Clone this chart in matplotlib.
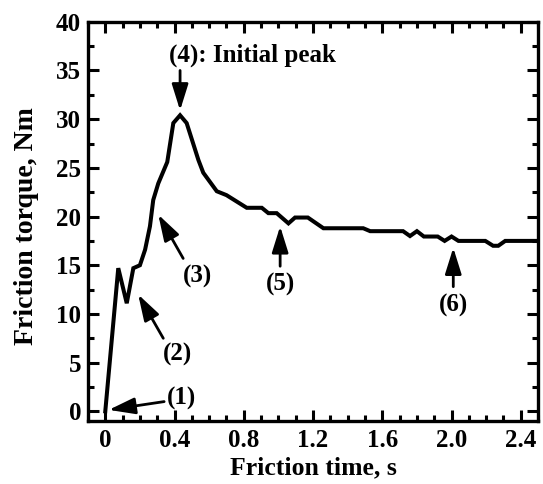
import matplotlib
matplotlib.use("Agg")
import matplotlib.pyplot as plt
from matplotlib.ticker import MultipleLocator

# Data
time_s = [0.0, 0.075, 0.124, 0.162, 0.20, 0.23, 0.258, 0.277, 0.306, 0.358, 0.393,
          0.432, 0.47, 0.538, 0.566, 0.644, 0.70, 0.817, 0.904, 0.942, 0.99, 1.058,
          1.096, 1.17, 1.26, 1.49, 1.53, 1.72, 1.76, 1.80, 1.84, 1.92, 1.96, 2.00,
          2.04, 2.195, 2.24, 2.27, 2.31, 2.5]
torque_nm = [0.0, 14.7, 11.1, 14.7, 15.0, 16.6, 19.0, 21.7, 23.4, 25.6, 29.6,
             30.4, 29.6, 25.8, 24.5, 22.6, 22.2, 20.9, 20.9, 20.35, 20.35, 19.3,
             19.9, 19.9, 18.8, 18.8, 18.5, 18.5, 18.0, 18.5, 17.95, 17.95, 17.5, 17.95,
             17.5, 17.5, 17.0, 17.0, 17.5, 17.5]

x_ticks = [0, 0.4, 0.8, 1.2, 1.6, 2.0, 2.4]
x_tick_labels = ["0", "0.4", "0.8", "1.2", "1.6", "2.0", "2.4"]
y_ticks = [0, 5, 10, 15, 20, 25, 30, 35, 40]

# annotations: label, label position, arrow tail, arrow tip
ann_labels = ["(1)", "(2)", "(3)", "(4): Initial peak", "(5)", "(6)"]
ann_text_xy = [(0.44, 1.3), (0.42, 5.8), (0.53, 13.9), (0.85, 36.6), (1.01, 13.0), (2.01, 10.9)]
ann_tail_xy = [(0.34, 1.0), (0.335, 7.5), (0.45, 15.7), (0.432, 35.0), (1.01, 14.9), (2.01, 12.8)]
ann_tip_xy = [(0.02, 0.15), (0.19, 12.0), (0.306, 20.2), (0.432, 30.9), (1.01, 19.0), (2.01, 16.8)]

plt.rcParams['font.family'] = ['Liberation Serif', 'DejaVu Serif']
plt.rcParams['font.weight'] = 'bold'

fig = plt.figure(figsize=(5.43, 4.84), dpi=100)
ax = fig.add_axes([0.162, 0.130, 0.829, 0.825])

ax.plot(time_s, torque_nm, color='black', lw=2.9, solid_joinstyle='miter')

ax.set_xlim(-0.1, 2.5)
ax.set_ylim(-1, 40)
ax.set_xticks(x_ticks)
ax.set_xticklabels(x_tick_labels)
ax.set_yticks(y_ticks)
ax.xaxis.set_minor_locator(MultipleLocator(0.1))
ax.yaxis.set_minor_locator(MultipleLocator(2.5))
ax.tick_params(which='both', direction='in', top=True, right=True, width=2.2,
               labelsize=18)
ax.tick_params(axis='x', pad=6)
ax.tick_params(axis='y', pad=5)
ax.tick_params(which='major', length=8)
ax.tick_params(which='minor', length=4)
for sp in ax.spines.values():
    sp.set_linewidth(2.4)
for lab in ax.get_xticklabels() + ax.get_yticklabels():
    lab.set_fontweight('bold')

ax.set_xlabel("Friction time, s", fontsize=18.5, fontweight='bold')
ax.set_ylabel("Friction torque, Nm", fontsize=20, fontweight='bold')
ax.xaxis.set_label_coords(0.5, -0.087)
ax.yaxis.set_label_coords(-0.108, 0.488)

for lab, txy, tail, tip in zip(ann_labels, ann_text_xy, ann_tail_xy, ann_tip_xy):
    ax.text(txy[0], txy[1], lab, fontsize=18, fontweight='bold', ha='center', va='center')
    ax.annotate('', xy=tip, xytext=tail,
                arrowprops=dict(arrowstyle='-|>,head_length=0.8,head_width=0.25',
                                lw=2.0, color='black', mutation_scale=20,
                                shrinkA=0, shrinkB=0))

fig.savefig("out.png", dpi=100)
